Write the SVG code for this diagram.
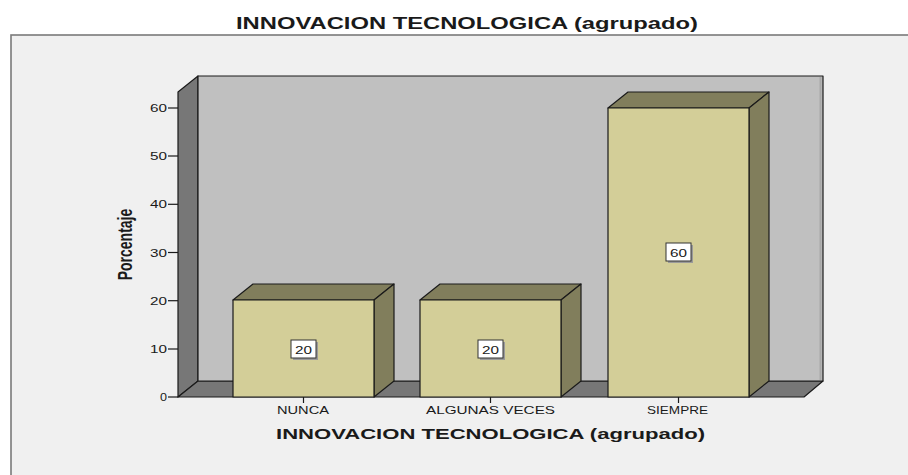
<svg xmlns="http://www.w3.org/2000/svg" width="908" height="475" viewBox="0 0 908 475">
<style>
text{font-family:"Liberation Sans",Arial,sans-serif;fill:#1a1a1a}
.tk{font-size:11px}
.ln{stroke:#1a1a1a;stroke-width:1.2;stroke-linejoin:round}
.front{fill:#D3CE98}
.dark{fill:#817E5C}
.wall{fill:#777777}
.vb{fill:#ffffff;stroke:#333;stroke-width:1}
.vs{fill:#9a9a9a}
</style>
<rect x="0" y="0" width="908" height="475" fill="#ffffff"/>
<rect x="11" y="35" width="910" height="450" fill="#F0F0F0" stroke="#7a7a7a" stroke-width="1.6"/>
<text x="236" y="29" font-size="16.5" font-weight="bold" textLength="462" lengthAdjust="spacingAndGlyphs">INNOVACION TECNOLOGICA (agrupado)</text>

<g id="axes">
  <polygon class="wall ln" points="178,92 198,76 198,381 178,397"/>
  <polygon class="wall ln" points="178,397 198,381 823,381 804,397"/>
  <rect x="198" y="76" width="625" height="305" fill="#C0C0C0" class="ln"/>
  <line x1="820.5" y1="77" x2="820.5" y2="380" stroke="#a8a8a8" stroke-width="2"/>
  <g class="ln">
    <line x1="168" y1="397" x2="178" y2="397"/>
    <line x1="168" y1="349" x2="178" y2="349"/>
    <line x1="168" y1="300.7" x2="178" y2="300.7"/>
    <line x1="168" y1="252.5" x2="178" y2="252.5"/>
    <line x1="168" y1="204.3" x2="178" y2="204.3"/>
    <line x1="168" y1="156" x2="178" y2="156"/>
    <line x1="168" y1="108" x2="178" y2="108"/>
    <line x1="303.5" y1="397" x2="303.5" y2="403"/>
    <line x1="490.5" y1="397" x2="490.5" y2="403"/>
    <line x1="678.5" y1="397" x2="678.5" y2="403"/>
  </g>
  <text class="tk" x="160" y="401" textLength="7" lengthAdjust="spacingAndGlyphs">0</text>
  <text class="tk" x="150" y="353" textLength="17" lengthAdjust="spacingAndGlyphs">10</text>
  <text class="tk" x="150" y="304.7" textLength="17" lengthAdjust="spacingAndGlyphs">20</text>
  <text class="tk" x="150" y="256.5" textLength="17" lengthAdjust="spacingAndGlyphs">30</text>
  <text class="tk" x="150" y="208.3" textLength="17" lengthAdjust="spacingAndGlyphs">40</text>
  <text class="tk" x="150" y="160" textLength="17" lengthAdjust="spacingAndGlyphs">50</text>
  <text class="tk" x="150" y="112" textLength="17" lengthAdjust="spacingAndGlyphs">60</text>
  <text transform="translate(132,244.5) scale(1.45,1) rotate(-90)" text-anchor="middle" font-size="14" font-weight="bold">Porcentaje</text>
  <text class="tk" x="277" y="414" textLength="52" lengthAdjust="spacingAndGlyphs">NUNCA</text>
  <text class="tk" x="426" y="414" textLength="129" lengthAdjust="spacingAndGlyphs">ALGUNAS VECES</text>
  <text class="tk" x="647" y="414" textLength="61" lengthAdjust="spacingAndGlyphs">SIEMPRE</text>
  <text x="276" y="438.5" font-size="14.5" font-weight="bold" textLength="429" lengthAdjust="spacingAndGlyphs">INNOVACION TECNOLOGICA (agrupado)</text>
</g>

<g id="bar-nunca">
  <polygon class="dark ln" points="233,300 253,284 394,284 374,300"/>
  <polygon class="dark ln" points="374,300 394,284 394,381 374,397"/>
  <rect class="front ln" x="233" y="300" width="141" height="97"/>
  <rect class="vs" x="293" y="342" width="25" height="18"/>
  <rect class="vb" x="291" y="340" width="25" height="18"/>
  <text class="tk" x="295" y="353.5" textLength="17" lengthAdjust="spacingAndGlyphs">20</text>
</g>

<g id="bar-algunas">
  <polygon class="dark ln" points="420,300 440,284 581,284 561,300"/>
  <polygon class="dark ln" points="561,300 581,284 581,381 561,397"/>
  <rect class="front ln" x="420" y="300" width="141" height="97"/>
  <rect class="vs" x="480" y="342" width="25" height="18"/>
  <rect class="vb" x="478" y="340" width="25" height="18"/>
  <text class="tk" x="482" y="353.5" textLength="17" lengthAdjust="spacingAndGlyphs">20</text>
</g>

<g id="bar-siempre">
  <polygon class="dark ln" points="608,108 628,92 769,92 749,108"/>
  <polygon class="dark ln" points="749,108 769,92 769,381 749,397"/>
  <rect class="front ln" x="608" y="108" width="141" height="289"/>
  <rect class="vs" x="668" y="245" width="25" height="18"/>
  <rect class="vb" x="666" y="243" width="25" height="18"/>
  <text class="tk" x="670" y="256.5" textLength="17" lengthAdjust="spacingAndGlyphs">60</text>
</g>
</svg>
